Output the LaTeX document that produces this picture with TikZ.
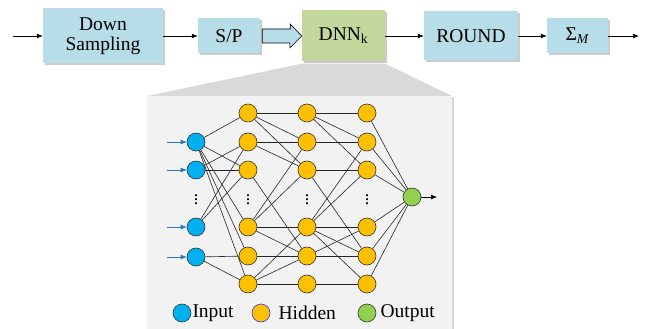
\documentclass[tikz,border=0pt]{standalone}
\usepackage{fontspec}
\setmainfont{Liberation Serif}
\usetikzlibrary{arrows.meta,shadows,calc,positioning}

\definecolor{boxblue}{HTML}{B7DEE8}
\definecolor{boxgreen}{HTML}{C3D69B}
\definecolor{inblue}{HTML}{00B0F0}
\definecolor{hidorange}{HTML}{FFC000}
\definecolor{outgreen}{HTML}{92D050}
\definecolor{arrblue}{HTML}{2E75B6}
\definecolor{panelgray}{HTML}{F2F2F2}
\definecolor{zoomgray}{HTML}{D9D9D9}

\tikzset{
  block/.style={fill=boxblue, align=center, inner sep=0pt,
    drop shadow={shadow xshift=2pt, shadow yshift=-2pt, fill=black!40},
    font=\rmfamily\fontsize{19.5}{20}\selectfont},
  neuron/.style={circle, draw=black!80, line width=0.6pt, minimum size=18pt, inner sep=0pt},
  link/.style={line width=0.6pt, black!85},
  flow/.style={line width=0.7pt, -{Latex[length=6pt,width=5pt]}},
  legend/.style={inner sep=1pt, font=\rmfamily\fontsize{19.5}{20}\selectfont},
}

\begin{document}
\begin{tikzpicture}[x=1pt,y=-1pt]
    \useasboundingbox (0,0) rectangle (649,329);

    % chain of blocks
    \node[block, minimum width=120pt, minimum height=55pt] (down) at (103,36) {Down\\Sampling};
    \node[block, minimum width=62pt, minimum height=35pt] (sp) at (229,36) {S/P};
    \node[block, fill=boxgreen, minimum width=83pt, minimum height=51pt] (dnn) at (343.5,36) {DNN\textsubscript{k}};
    \node[block, minimum width=94pt, minimum height=49pt] (round) at (471,36) {ROUND};
    \node[block, minimum width=61pt, minimum height=35pt] (sum) at (577.5,36) {Σ\textsubscript{\textit{M}}};
    \coordinate (src) at (13,36);
    \coordinate (snk) at (639,36);

    \draw[flow] (src) -- (down);
    \draw[flow] (down) -- (sp);
    \draw[flow] (dnn) -- (round);
    \draw[flow] (round) -- (sum);
    \draw[flow] (sum) -- (snk);
    \draw[fill=boxblue, line width=0.6pt] ($(sp.east)+(2,-7)$) -- ++(28,0) -- ++(0,-5)
        -- (dnn.west) -- ++(-12,12) -- ++(0,-5) -- ($(sp.east)+(2,7)$) -- cycle;

    % zoom into the network
    \fill[zoomgray] ($(dnn.south west)+(0,2)$) -- (147,96) -- (452,96) -- ($(dnn.south east)+(0,2)$) -- cycle;
    \path[fill=panelgray, drop shadow={shadow xshift=2pt, shadow yshift=-1pt, fill=black!30}] (147,96) rectangle (452,340);

    % neurons
    \foreach \y [count=\i] in {142,170,227,257}
    {
      \node[neuron, fill=inblue] (in\i) at (196,\y) {};
      \coordinate (feed\i) at (167,\y);
      \draw[flow, arrblue, line width=0.6pt] (feed\i) -- (in\i);
    }
    \foreach \y [count=\i] in {113,142,170,227,256,284}
    {
      \node[neuron, fill=hidorange] (ha\i) at (248,\y) {};
      \node[neuron, fill=hidorange] (hb\i) at (307,\y) {};
      \node[neuron, fill=hidorange] (hc\i) at (367,\y) {};
    }
    \node[neuron, fill=outgreen] (out) at (412,197) {};
    \coordinate (res) at (437,197);
    \draw[flow, line width=0.6pt] (out) -- (res);
    \foreach \x/\n in {196/vin,248/va,307/vb,367/vc}
      \node[inner sep=0pt, font=\fontsize{18}{18}\selectfont] (\n) at (\x,197) {$\vdots$};

    % links
    \foreach \a/\b in {in1/ha1,in1/ha3,in1/ha4,in1/ha5,in1/ha6,in2/ha2,in2/ha3,
                       in3/ha2,in3/ha3,in4/ha5,in4/ha6}
      \draw[link] (\a) -- (\b);
    \foreach \a/\b in {1/1,1/2,1/3,2/2,2/3,3/5,4/2,4/3,4/4,4/5,5/5,6/4,6/5,6/6}
      \draw[link] (ha\a) -- (hb\b);
    \foreach \a/\b in {1/1,1/2,1/3,2/2,3/3,3/5,4/2,4/3,4/4,4/5,4/6,5/4,5/5,6/6}
      \draw[link] (hb\a) -- (hc\b);
    \foreach \i in {1,...,6}
      \draw[link] (hc\i) -- (out);

    % legend
    \node[neuron, fill=inblue] (keyin) at (182,313) {};
    \node[legend, right=0pt of keyin] (keyintext) {Input};
    \node[neuron, draw=blue!80, fill=hidorange] (keyhid) at (261,313) {};
    \node[legend, right=7pt of keyhid] (keyhidtext) {Hidden};
    \node[neuron, fill=outgreen] (keyout) at (367,313) {};
    \node[legend, right=3pt of keyout] (keyouttext) {Output};
\end{tikzpicture}
\end{document}
